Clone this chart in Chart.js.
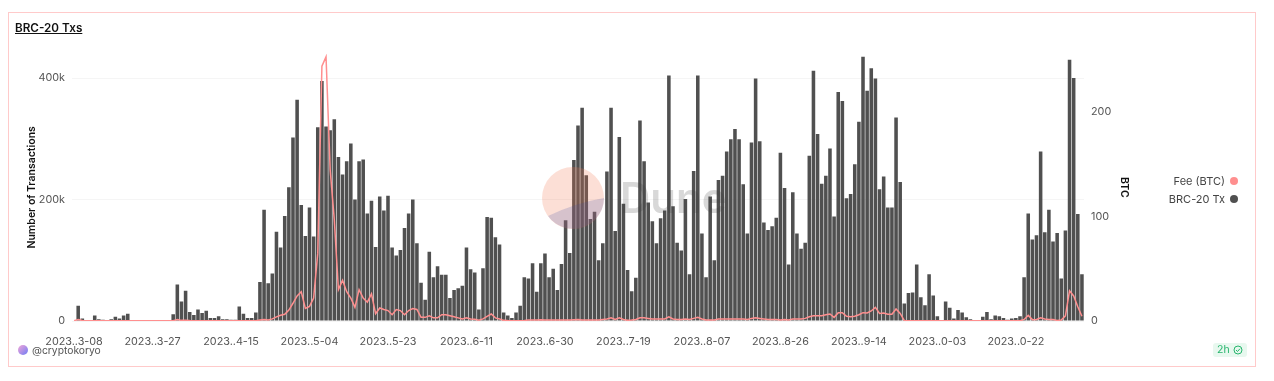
<!DOCTYPE html>
<html lang="en">
<head>
<meta charset="UTF-8">
<title>BRC-20 Txs</title>
<script src="https://cdn.jsdelivr.net/npm/chart.js"></script>
<style>
    body { margin: 0; background: #fff; font-family: Inter, sans-serif; }
    #wrap { position: relative; width: 1274px; height: 381px; overflow: hidden; }
    #myChart { position: absolute; left: 0; top: 0; }
    #frame { position: absolute; left: 8px; top: 12px; width: 1246px; height: 353px; border: 1.5px solid #ffcaca; }
    #title { position: absolute; left: 15px; top: 21px; font-size: 11.7px; font-weight: 600; color: #111; text-decoration: underline; }
    #legend { position: absolute; right: 36px; top: 172px; font-size: 11px; color: #444; text-align: right; line-height: 18px; }
    #legend i { display: inline-block; width: 8px; height: 8px; border-radius: 50%; margin-left: 5px; }
    #author { position: absolute; left: 32px; top: 344px; font-size: 10.3px; color: #555; }
    #avatar { position: absolute; left: 18px; top: 345px; width: 10px; height: 10px; border-radius: 50%; background: linear-gradient(135deg, #f3a6d8, #6f7cf5); }
    #badge { position: absolute; left: 1213px; top: 343px; width: 34px; height: 14px; border-radius: 3px; background: #e8f8ef; color: #27b56d; font-size: 10.5px; line-height: 14px; text-indent: 4px; }
    #badge svg { position: absolute; left: 20px; top: 2px; }
    #mark { position: absolute; left: 0; top: 0; pointer-events: none; }
    #dune { position: absolute; left: 620px; top: 172px; font-size: 42px; font-weight: 600; color: rgba(60, 60, 60, 0.2); pointer-events: none; }
</style>
</head>
<body>
<div id="wrap">
    <canvas id="myChart" width="1274" height="381"></canvas>
    <svg id="mark" width="1274" height="381">
        <circle cx="573" cy="198" r="31" fill="rgba(244, 120, 85, 0.24)"></circle>
        <path d="M548 216 A31 31 0 0 0 604 198 Q575 203 548 216 Z" fill="rgba(60, 75, 160, 0.2)"></path>
    </svg>
    <div id="dune">Dune</div>
    <div id="frame"></div>
    <div id="title">BRC-20 Txs</div>
    <div id="legend"></div>
    <div id="avatar"></div>
    <div id="author">@cryptokoryo</div>
    <div id="badge">2h<svg width="10" height="10" viewBox="0 0 10 10"><circle cx="5" cy="5" r="4" fill="none" stroke="#27b56d"></circle><path d="M3 5 L4.5 6.5 L7 3.7" fill="none" stroke="#27b56d"></path></svg></div>
</div>

<script>
const tickLabels = ['2023..3-08', '2023..3-27', '2023..4-15', '2023..5-04', '2023..5-23', '2023..6-11', '2023..6-30',
    '2023..7-19', '2023..8-07', '2023..8-26', '2023..9-14', '2023..0-03', '2023..0-22'];
const leftTicks = [0, 200000, 400000];
const rightTicks = [0, 100, 200];

// daily BRC-20 transactions, in thousands
const txs = [1, 25, 4, 0.5, 0.5, 9, 3, 2, 1, 3, 7, 4, 9, 12, 0, 0, 0, 0, 0, 0,
    0, 0, 0, 0, 11, 60, 32, 50, 15, 10, 19, 13, 17, 5, 5, 8, 3, 3, 2, 2,
    24, 12, 5, 5, 14, 64, 183, 62, 78, 147, 121, 173, 220, 302, 364, 191, 140, 187, 139, 319,
    395, 320, 314, 332, 270, 241, 263, 292, 200, 263, 266, 177, 198, 122, 205, 182, 206, 121, 108, 117,
    153, 177, 200, 128, 63, 35, 114, 72, 90, 76, 76, 38, 51, 54, 58, 121, 85, 80, 19, 87,
    171, 170, 138, 126, 14, 9, 5, 14, 25, 72, 70, 95, 48, 95, 111, 72, 86, 51, 94, 166,
    112, 265, 322, 351, 240, 168, 180, 100, 128, 246, 351, 148, 303, 193, 84, 49, 71, 330, 263, 195,
    164, 128, 169, 182, 404, 189, 129, 116, 201, 77, 247, 404, 144, 72, 205, 100, 232, 239, 279, 299,
    316, 299, 225, 144, 294, 399, 296, 162, 150, 156, 170, 277, 219, 93, 212, 144, 119, 129, 272, 412,
    308, 226, 239, 284, 172, 377, 362, 202, 209, 258, 328, 435, 379, 416, 399, 217, 238, 187, 187, 335,
    229, 29, 46, 47, 93, 39, 26, 77, 42, 8, 1, 32, 22, 4, 18, 14, 6, 3, 0.5, 0.5,
    7, 15, 3, 9, 8, 5, 2, 4, 5, 8, 72, 177, 134, 141, 279, 146, 183, 131, 145, 70,
    149, 430, 400, 176, 77];

// daily fee in BTC
const fee = [0.3, 1.5, 0.5, 0.3, 0.3, 0.3, 0.3, 0.3, 0.3, 0.3, 0.3, 0.3, 0.3, 0.3, 0.2, 0.2, 0.2, 0.2, 0.2, 0.2,
    0.2, 0.2, 0.2, 0.2, 0.3, 1.5, 0.6, 0.8, 0.5, 0.3, 0.3, 0.3, 0.3, 0.3, 0.3, 0.3, 0.3, 0.3, 0.3, 0.3,
    0.3, 0.3, 0.3, 0.3, 0.3, 1, 1.5, 1, 2, 4, 5.5, 6.5, 10.5, 17, 24, 28, 12, 14, 22, 65,
    244, 253, 145, 97, 30, 39, 28, 22, 13, 30, 22, 18, 26, 7, 12.5, 11, 10, 6, 11, 10,
    6, 10, 12, 11, 3.5, 3.5, 5, 3, 3, 6, 6, 5, 4, 3, 2, 3, 2, 1.6, 0.8, 2,
    4.5, 6.7, 3, 2, 0.6, 0.4, 0.3, 0.3, 0.3, 0.5, 1, 1, 1, 1.2, 1, 1, 1, 1, 1, 1,
    1, 1.3, 1.5, 1, 1, 1, 1, 1, 1.5, 2, 3, 1.5, 3, 1.5, 0.8, 1, 1.5, 3, 3, 2.5,
    2, 2, 2, 2, 4, 2, 1.5, 1.5, 2, 1.5, 2.5, 3.5, 2, 1, 1, 1, 2, 2, 2, 2,
    2, 2, 2, 1.5, 2.5, 3, 2.5, 2, 1.5, 1.5, 1.5, 1, 1.5, 1, 2, 2, 2, 2.5, 4, 5,
    5, 5, 6, 6.7, 3.5, 8, 8, 4.5, 4, 4.5, 6, 8, 7.7, 9.6, 13, 7.3, 7.7, 6.4, 6.4, 11.5,
    7.3, 0.4, 0.3, 0.3, 0.3, 0.3, 0.3, 0.3, 0.3, 0.3, 0.3, 0.3, 0.3, 0.3, 0.3, 0.3, 0.3, 0.3, 0.3, 0.3,
    0.3, 0.3, 0.3, 0.3, 0.3, 0.3, 0.3, 0.3, 0.3, 0.3, 1.5, 5.4, 1.3, 1.5, 3, 2, 1.5, 1.5, 0.6, 1,
    5, 29, 24, 13.7, 4.5];

const seriesNames = ['Fee (BTC)', 'BRC-20 Tx'];
const seriesColors = ['#ff8f8f', '#505050'];

const tickFont = { family: 'Inter, sans-serif', size: 10.8 };
const titleFont = { family: 'Inter, sans-serif', size: 10.5, weight: '600' };

new Chart(document.getElementById('myChart').getContext('2d'), {
    data: {
        labels: txs.map((_, i) => i),
        datasets: [
            {
                type: 'line',
                label: seriesNames[0],
                data: fee,
                yAxisID: 'y1',
                borderColor: seriesColors[0],
                borderWidth: 1.5,
                pointRadius: 0,
                tension: 0,
                order: 0
            },
            {
                type: 'bar',
                label: seriesNames[1],
                data: txs.map(v => v * 1000),
                yAxisID: 'y',
                backgroundColor: seriesColors[1],
                barPercentage: 0.86,
                categoryPercentage: 1,
                order: 1
            }
        ]
    },
    options: {
        responsive: false,
        animation: false,
        layout: { padding: { left: 26, right: 144, top: 53.7, bottom: 0 } },
        plugins: { legend: { display: false }, tooltip: { enabled: false } },
        scales: {
            x: {
                grid: { display: false },
                border: { display: false },
                afterFit: scale => { scale.height = 60; },
                ticks: {
                    autoSkip: false,
                    maxRotation: 0,
                    padding: 6,
                    color: '#555',
                    font: tickFont,
                    callback: (v, i) => (i % 19 === 0 ? tickLabels[i / 19] : null)
                }
            },
            y: {
                position: 'left',
                min: 0,
                max: 440000,
                afterFit: scale => { scale.width = 46; },
                afterBuildTicks: scale => { scale.ticks = leftTicks.map(value => ({ value })); },
                border: { display: false },
                grid: { color: '#f5f5f5', drawTicks: false },
                title: { display: true, text: 'Number of Transactions', color: '#111', font: titleFont, padding: 0 },
                ticks: {
                    padding: 7,
                    color: '#555',
                    font: tickFont,
                    callback: v => (v === 0 ? '0' : v / 1000 + 'k')
                }
            },
            y1: {
                position: 'right',
                min: 0,
                max: 256,
                afterFit: scale => { scale.width = 46; },
                afterBuildTicks: scale => { scale.ticks = rightTicks.map(value => ({ value })); },
                border: { display: false },
                grid: { display: false, drawTicks: false },
                title: { display: true, text: 'BTC', color: '#111', font: titleFont, padding: 0 },
                ticks: {
                    padding: 7,
                    color: '#555',
                    font: tickFont
                }
            }
        }
    }
});

document.getElementById('legend').innerHTML = seriesNames
    .map((name, i) => `<div>${name}<i style="background:${seriesColors[i]}"></i></div>`)
    .join('');
</script>
</body>
</html>
